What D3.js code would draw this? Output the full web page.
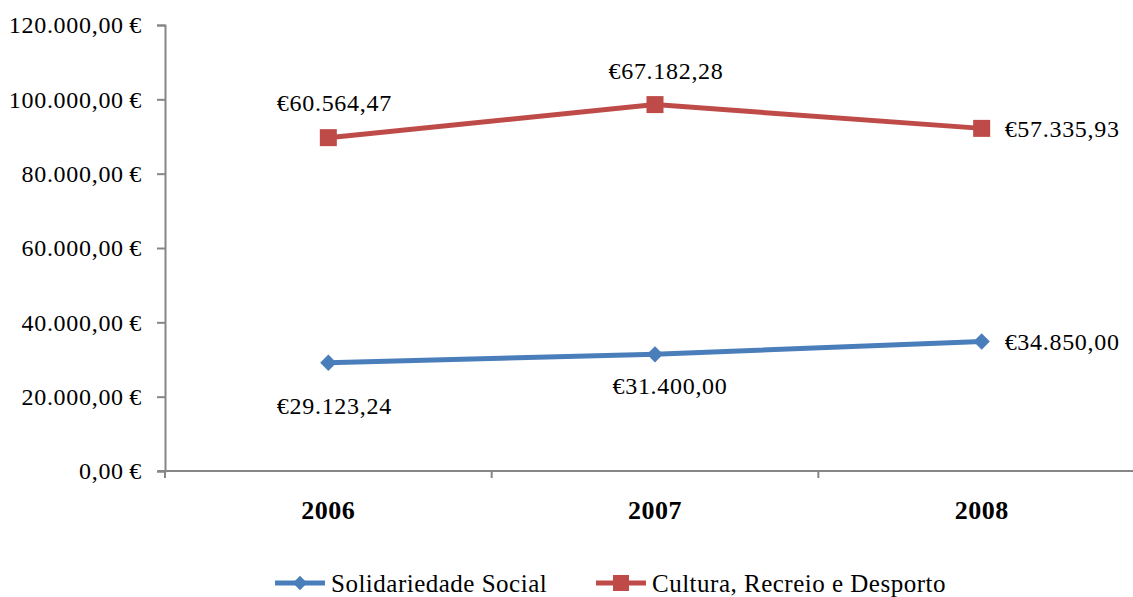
<!DOCTYPE html>
<html>
<head>
<meta charset="utf-8">
<script src="https://cdn.jsdelivr.net/npm/d3@7"></script>
<style>
  body { margin: 0; background: #fff; }
  svg text { font-family: "Liberation Serif", "Times New Roman", serif; fill: #000; }
</style>
</head>
<body>
<svg id="chart" width="1133" height="597"></svg>
<script>
// data
const years = ["2006", "2007", "2008"];
const solidariedade = [29123.24, 31400.00, 34850.00];
const cultura = [60564.47, 67182.28, 57335.93];
const seriesNames = ["Solidariedade Social", "Cultura, Recreio e Desporto"];
const yTicks = [0, 20000, 40000, 60000, 80000, 100000, 120000];

const blue = "#4a7ebb", red = "#be4b48", axisGrey = "#868686";

const svg = d3.select("#chart");

const x = d3.scaleBand().domain(years).range([165, 1145]);
const y = d3.scaleLinear().domain([0, 120000]).range([471, 25]);

const euroFmt = d3.formatLocale({decimal: ",", thousands: ".", grouping: [3], currency: ["€", ""]});
const tickFmt = v => euroFmt.format(",.2f")(v) + "\u2009€";
const labelFmt = euroFmt.format("$,.2f");

// stacked line: second series sits on top of the first
const stacked = years.map((yr, i) => ({
    year: yr,
    s1: solidariedade[i],
    s2: cultura[i],
    top: solidariedade[i] + cultura[i]
}));

// y axis
const yAxis = svg.append("g")
    .attr("transform", "translate(165,0)")
    .call(d3.axisLeft(y).tickValues(yTicks).tickSize(8).tickPadding(15).tickFormat(tickFmt));
yAxis.select(".domain").attr("stroke", axisGrey).attr("stroke-width", 2);
yAxis.selectAll(".tick line").attr("stroke", axisGrey).attr("stroke-width", 2);
yAxis.selectAll("text")
    .attr("font-size", 24)
    .attr("letter-spacing", 0.7)
    .attr("font-family", "Liberation Serif")
    .attr("fill", "#000");

// x axis with ticks at the band edges
const xAxis = svg.append("g").attr("transform", "translate(0,471)");
xAxis.append("line")
    .attr("x1", 158).attr("x2", 1145)
    .attr("stroke", axisGrey).attr("stroke-width", 2);
const edges = years.map(d => x(d)).concat([x(years[years.length - 1]) + x.bandwidth()]);
xAxis.selectAll("line.tk").data(edges).join("line")
    .attr("class", "tk")
    .attr("x1", d => d).attr("x2", d => d)
    .attr("y1", 0).attr("y2", 7)
    .attr("stroke", axisGrey).attr("stroke-width", 2);
xAxis.selectAll("text").data(years).join("text")
    .attr("x", d => x(d) + x.bandwidth() / 2)
    .attr("y", 48)
    .attr("text-anchor", "middle")
    .attr("font-size", 26)
    .attr("letter-spacing", 0.5)
    .attr("font-weight", "bold")
    .text(d => d);

const cx = d => x(d.year) + x.bandwidth() / 2;

const line1 = d3.line().x(cx).y(d => y(d.s1));
const line2 = d3.line().x(cx).y(d => y(d.top));

svg.append("path").datum(stacked)
    .attr("d", line1).attr("fill", "none")
    .attr("stroke", blue).attr("stroke-width", 5);
svg.append("path").datum(stacked)
    .attr("d", line2).attr("fill", "none")
    .attr("stroke", red).attr("stroke-width", 5);

const diamond = d3.symbol().type(d3.symbolDiamond2).size(170);

svg.selectAll("path.dia").data(stacked).join("path")
    .attr("class", "dia")
    .attr("d", diamond)
    .attr("transform", d => `translate(${cx(d)},${y(d.s1)})`)
    .attr("fill", blue);

svg.selectAll("rect.sq").data(stacked).join("rect")
    .attr("class", "sq")
    .attr("x", d => cx(d) - 8.5)
    .attr("y", d => y(d.top) - 8.5)
    .attr("width", 17).attr("height", 17)
    .attr("fill", red);

// data labels: above/below for first points, to the right for the last
const last = years.length - 1;
svg.selectAll("text.lb1").data(stacked).join("text")
    .attr("class", "lb1")
    .attr("font-size", 24)
    .attr("letter-spacing", 0.7)
    .attr("text-anchor", (d, i) => i === last ? "start" : "middle")
    .attr("x", (d, i) => i === last ? cx(d) + 23 : cx(d) + (i === 0 ? 6 : 15))
    .attr("y", (d, i) => i === last ? y(d.s1) + 9 : y(d.s1) + (i === 0 ? 51 : 40))
    .text(d => labelFmt(d.s1));

svg.selectAll("text.lb2").data(stacked).join("text")
    .attr("class", "lb2")
    .attr("font-size", 24)
    .attr("letter-spacing", 0.7)
    .attr("text-anchor", (d, i) => i === last ? "start" : "middle")
    .attr("x", (d, i) => i === last ? cx(d) + 23 : cx(d) + (i === 0 ? 6 : 11))
    .attr("y", (d, i) => i === last ? y(d.top) + 9 : y(d.top) - (i === 0 ? 27 : 26))
    .text(d => labelFmt(d.s2));

// legend
const legend = svg.append("g").attr("transform", "translate(0,583)");
const items = [
    {name: seriesNames[0], color: blue, x0: 275, shape: "diamond"},
    {name: seriesNames[1], color: red, x0: 596, shape: "square"}
];
items.forEach(it => {
    const g = legend.append("g").attr("transform", `translate(${it.x0},0)`);
    g.append("line").attr("x1", 0).attr("x2", 50)
        .attr("stroke", it.color).attr("stroke-width", 5);
    if (it.shape === "diamond") {
        g.append("path").attr("d", d3.symbol().type(d3.symbolDiamond2).size(130))
            .attr("transform", "translate(25,0)").attr("fill", it.color);
    } else {
        g.append("rect").attr("x", 17).attr("y", -8).attr("width", 16).attr("height", 16)
            .attr("fill", it.color);
    }
    g.append("text").attr("x", 56).attr("y", 9)
        .attr("font-size", 25)
        .attr("letter-spacing", 0.5)
        .text(it.name);
});
</script>
</body>
</html>
